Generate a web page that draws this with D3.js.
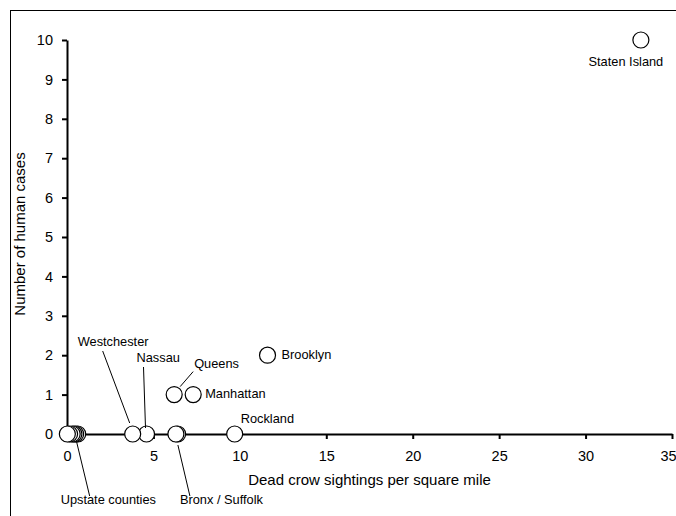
<!DOCTYPE html>
<html>
<head>
<meta charset="utf-8">
<script src="https://cdn.jsdelivr.net/npm/d3@7"></script>
<style>
  body { margin: 0; background: #fff; }
  svg { font-family: Arial, "Liberation Sans", sans-serif; }
</style>
</head>
<body>
<svg id="chart" width="676" height="516"></svg>
<script>
// counties: dead crow sightings per sq mile vs human cases
const names = ["Staten Island", "Brooklyn", "Queens", "Manhattan", "Rockland",
  "Bronx", "Suffolk", "Nassau", "Westchester"]
const crows = [33.2, 11.6, 6.2, 7.3, 9.7, 6.3, 6.4, 4.6, 3.8]
const cases = [10, 2, 1, 1, 0, 0, 0, 0, 0]
// upstate counties cluster near zero
const upstateCrows = [0.02, 0.15, 0.3, 0.4, 0.5, 0.62]
const xTicks = [0, 5, 10, 15, 20, 25, 30, 35]
const yTicks = [0, 1, 2, 3, 4, 5, 6, 7, 8, 9, 10]

const svg = d3.select("#chart")

// frame
svg.append("rect")
  .attr("x", 10.5).attr("y", 10.5)
  .attr("width", 700).attr("height", 600)
  .attr("fill", "none").attr("stroke", "#000")

const x = d3.scaleLinear().domain([0, 35]).range([67, 672])
const y = d3.scaleLinear().domain([0, 10]).range([434, 40])

const xAxis = svg.append("g")
  .attr("transform", `translate(0,${y(0)})`)
  .call(d3.axisBottom(x).tickValues(xTicks).tickSize(5).tickPadding(12).tickSizeOuter(0))
const yAxis = svg.append("g")
  .attr("transform", `translate(${x(0)},0)`)
  .call(d3.axisLeft(y).tickValues(yTicks).tickSize(5).tickPadding(9).tickSizeOuter(0))

;[xAxis, yAxis].forEach(g => {
  g.select(".domain").attr("stroke", "#000").attr("stroke-width", 2)
  g.selectAll(".tick line").attr("stroke", "#000").attr("stroke-width", 2)
  g.selectAll(".tick text")
    .attr("fill", "#000")
    .style("font-size", "14.5px")
    .style("font-family", "Arial, 'Liberation Sans', sans-serif")
})
// keep the last x label inside the page
xAxis.selectAll(".tick text").filter(d => d === 35).attr("dx", -4)

svg.append("text")
  .attr("x", (x(0) + x(35)) / 2).attr("y", 485)
  .attr("text-anchor", "middle")
  .style("font-size", "15px")
  .text("Dead crow sightings per square mile")

svg.append("text")
  .attr("transform", `translate(25,${(y(0) + y(10)) / 2 - 3}) rotate(-90)`)
  .attr("text-anchor", "middle")
  .style("font-size", "15px")
  .text("Number of human cases")

// points, drawn right to left so left ones sit on top
const pts = names.map((n, i) => ({ name: n, cx: crows[i], cy: cases[i] }))
  .concat(upstateCrows.map(v => ({ name: "Upstate", cx: v, cy: 0 })))
  .sort((a, b) => b.cx - a.cx)

svg.append("g").selectAll("circle")
  .data(pts)
  .join("circle")
  .attr("cx", d => x(d.cx))
  .attr("cy", d => y(d.cy))
  .attr("r", 8)
  .attr("fill", "#fff")
  .attr("stroke", "#000")
  .attr("stroke-width", 1.2)

const labels = svg.append("g").style("font-size", "12.8px")
function label(txt, px, py, anchor) {
  labels.append("text").attr("x", px).attr("y", py)
    .attr("text-anchor", anchor || "start")
    .attr("dominant-baseline", "middle")
    .text(txt)
}
function leader(x1, y1, x2, y2) {
  labels.append("line")
    .attr("x1", x1).attr("y1", y1).attr("x2", x2).attr("y2", y2)
    .attr("stroke", "#000").attr("stroke-width", 1)
}

label("Staten Island", x(33.2) - 15, y(10) + 23, "middle")
label("Brooklyn", x(11.6) + 14, y(2))
label("Manhattan", x(7.3) + 12, y(1))
label("Queens", x(6.2) + 20, y(1) - 30)
leader(x(6.2) + 6, y(1) - 8, x(6.2) + 19, y(1) - 23)
label("Rockland", x(9.7) + 6, y(0) - 14)
label("Nassau", x(4.6) - 10, y(0) - 75)
leader(x(4.6) - 3, y(0) - 67, x(4.6) - 1, y(0) - 6)
label("Westchester", x(3.8) - 55, y(0) - 91)
leader(x(3.8) - 30, y(0) - 83, x(3.8) - 3, y(0) - 11)
label("Bronx / Suffolk", x(6.3) + 4, 501)
leader(x(6.3) + 2, y(0) + 11, x(6.3) + 14, 496)
label("Upstate counties", x(0.5) - 15, 501)
leader(x(0.5) + 1, y(0) + 8, x(0.5) + 14, 496)
</script>
</body>
</html>
